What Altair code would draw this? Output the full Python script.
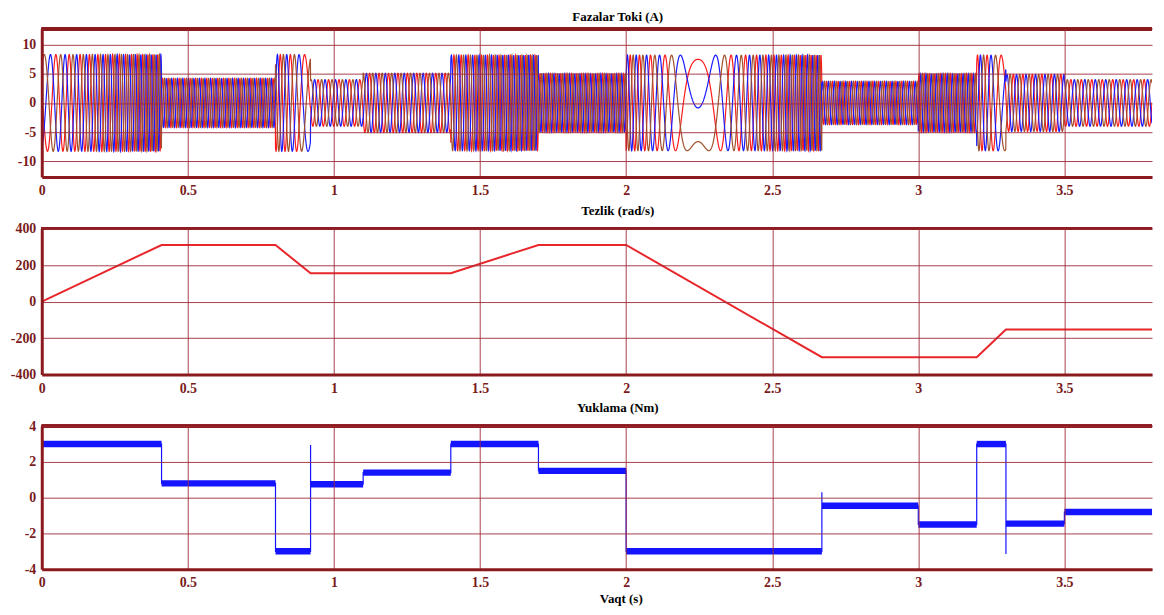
import numpy as np
import pandas as pd
import altair as alt

alt.data_transformers.disable_max_rows()

# ---------------- values ----------------
# segment boundaries (s), shared by the load torque and the phase-current amplitude
seg_t = [0.0, 0.41, 0.80, 0.92, 1.10, 1.40, 1.70, 2.00, 2.67, 3.00, 3.20, 3.30, 3.50, 3.80]
load_nm = [3.0, 0.8, -3.0, 0.75, 1.4, 3.0, 1.5, -3.0, -0.45, -1.5, 3.0, -1.45, -0.8]
current_amp = [8.3, 4.2, 8.3, 4.0, 5.1, 8.2, 5.0, 8.2, 3.7, 5.0, 8.2, 4.9, 4.0]

# speed profile breakpoints (s, rad/s)
speed_t = [0.0, 0.41, 0.80, 0.92, 1.40, 1.70, 2.00, 2.67, 3.20, 3.30, 3.80]
speed_v = [0, 310, 310, 155, 155, 310, 310, -305, -305, -153, -153]

# torque transients: time and value reached by the spike
spike_t = [0.92, 2.67, 3.30]
spike_v = [2.95, 0.30, -3.15]
torque_start = 0.9          # value at t = 0 before the first plateau

# slip gain (rad/s per Nm) read from where the currents freeze (~2.24 s)
K_SLIP = 28.0
phase_names = ["A", "B", "C"]
phase_colors = ["#ff1a1a", "#1a1aff", "#a0522d"]

# axis tick values
xticks = [0, 0.5, 1, 1.5, 2, 2.5, 3, 3.5]
i_ticks = [-10, -5, 0, 5, 10]
w_ticks = [-400, -200, 0, 200, 400]
T_ticks = [-4, -2, 0, 2, 4]

# ---------------- derived tables ----------------
dt = 0.0005
t = np.arange(0.0, 3.8 + dt / 2, dt)
idx = np.clip(np.searchsorted(seg_t, t, side="right") - 1, 0, len(load_nm) - 1)
torque_s = np.array(load_nm)[idx]
amp_s = np.array(current_amp)[idx]
omega = np.interp(t, speed_t, speed_v)
we = omega + K_SLIP * torque_s
theta = np.concatenate([[0.0], np.cumsum((we[1:] + we[:-1]) / 2 * dt)])
# instant where the electrical frequency crosses zero during reversal
win = np.where((t > 2.0) & (t < 2.67))[0]
k0 = win[np.argmin(np.abs(we[win]))]
phi = np.deg2rad(66.0) - theta[k0]
offs = [0.0, 2 * np.pi / 3, -2 * np.pi / 3]
rows = []
for name, off in zip(phase_names, offs):
    rows.append(pd.DataFrame({
        "t": np.round(t, 4),
        "i": np.round(amp_s * np.sin(theta + phi + off), 2),
        "faza": name,
    }))
cur_df = pd.concat(rows, ignore_index=True)

speed_df = pd.DataFrame({"t": speed_t, "w": speed_v})

band_df = pd.DataFrame({"t0": seg_t[:-1], "t1": seg_t[1:], "T": load_nm})
BAND = 0.18
band_df["lo"] = band_df["T"] - BAND
band_df["hi"] = band_df["T"] + BAND

lt, lv = [0.0], [torque_start]
for s, e, L in zip(seg_t[:-1], seg_t[1:], load_nm):
    if s in spike_t:
        lt.append(s)
        lv.append(spike_v[spike_t.index(s)])
    lt += [s, e]
    lv += [L, L]
line_df = pd.DataFrame({"t": lt, "T": lv, "k": range(len(lt))})

# ---------------- styling ----------------
W = 1118
FRAME = "#8b1a1f"
GRID = "#9e2a38"
LABEL = "#7a1b1b"
FONT = "Liberation Serif"
xscale = alt.Scale(domain=[0, 3.8], nice=False, zero=False)


def xenc(title=None):
    if title:
        ax = alt.Axis(values=xticks, format="~g", grid=True, labelFlush=False,
                      labelPadding=6, zindex=1, title=title, titleX=583,
                      titlePadding=4, titleFont=FONT, titleFontSize=13,
                      titleFontWeight="bold", titleColor="black")
        return alt.X("t:Q", scale=xscale, axis=ax)
    ax = alt.Axis(values=xticks, format="~g", grid=True, labelFlush=False,
                  labelPadding=7, zindex=1)
    return alt.X("t:Q", scale=xscale, axis=ax, title=None)


def yaxis(vals):
    return alt.Axis(values=vals, zindex=1, labelOverlap=False, grid=True,
                    labelExpr="'' + datum.value")


def ptitle(text):
    return alt.Title(text, font=FONT, fontSize=13, fontWeight="bold",
                     color="black", dx=21, offset=4)


def top_rule():
    return alt.Chart(speed_df).mark_rule(color=FRAME, strokeWidth=3).encode(
        x=alt.value(0), x2=alt.value(W), y=alt.value(0))


cur = alt.Chart(cur_df).mark_line(strokeWidth=1.2, clip=True).encode(
    x=xenc(),
    y=alt.Y("i:Q", scale=alt.Scale(domain=[-12.7, 12.7], nice=False),
            axis=yaxis(i_ticks), title=None),
    color=alt.Color("faza:N", scale=alt.Scale(domain=phase_names, range=phase_colors),
                    legend=None),
)
panel1 = alt.layer(cur, top_rule()).properties(
    width=W, height=149, title=ptitle("Fazalar Toki (A)"))

spd = alt.Chart(speed_df).mark_line(color="#e8262b", strokeWidth=2).encode(
    x=xenc(),
    y=alt.Y("w:Q", scale=alt.Scale(domain=[-400, 400], nice=False),
            axis=yaxis(w_ticks), title=None),
)
panel2 = alt.layer(spd, top_rule()).properties(
    width=W, height=147, title=ptitle("Tezlik (rad/s)"))

Tscale = alt.Scale(domain=[-4, 4], nice=False)
band = alt.Chart(band_df).mark_rect(color="#1414ff").encode(
    x=xenc("Vaqt (s)"), x2="t1:Q",
    y=alt.Y("lo:Q", scale=Tscale, axis=yaxis(T_ticks), title=None),
    y2="hi:Q",
).transform_calculate(t="datum.t0")
tl = alt.Chart(line_df).mark_line(color="#1414ff", strokeWidth=1.2).encode(
    x=xenc("Vaqt (s)"),
    y=alt.Y("T:Q", scale=Tscale, axis=yaxis(T_ticks), title=None),
    order="k:Q")
panel3 = alt.layer(band, tl, top_rule()).properties(
    width=W, height=144, title=ptitle("Yuklama (Nm)"))

chart = alt.vconcat(panel1, panel2, panel3, spacing=7).properties(
    padding={"left": 0, "top": 0, "right": 0, "bottom": 0}
).configure_view(strokeWidth=0).configure_axis(
    labelFont=FONT, labelFontSize=14, labelFontWeight="bold", labelColor=LABEL,
    domainColor=FRAME, domainWidth=3, gridColor=GRID, gridWidth=1, gridOpacity=0.9,
    ticks=False, tickSize=0, labelOverlap=False,
).configure_axisY(labelPadding=6, minExtent=34, maxExtent=34)

chart.save("out.html", embed_options={"renderer": "svg", "actions": False})
